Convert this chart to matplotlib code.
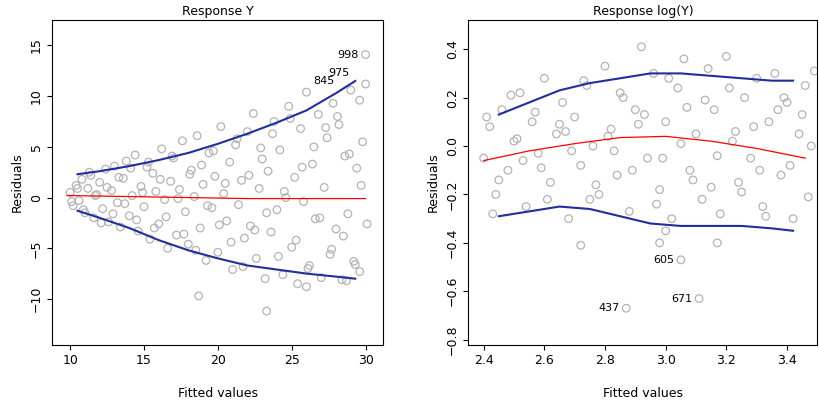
import matplotlib.pyplot as plt

# left panel: residuals vs fitted, response Y
fit_y = [10.0, 10.2, 10.4, 10.6, 10.8, 11.0, 11.2, 11.4, 11.6, 11.8, 12.0, 12.2, 12.4, 12.6, 12.8,
         13.0, 13.2, 13.4, 13.6, 13.8, 14.0, 14.2, 14.4, 14.6, 14.8, 15.0, 15.2, 15.4, 15.6, 15.8,
         16.0, 16.2, 16.4, 16.6, 16.8, 17.0, 17.2, 17.4, 17.6, 17.8, 18.0, 18.2, 18.4, 18.6, 18.8,
         19.0, 19.2, 19.4, 19.6, 19.8, 20.0, 20.2, 20.4, 20.6, 20.8, 21.0, 21.2, 21.4, 21.6, 21.8,
         22.0, 22.2, 22.4, 22.6, 22.8, 23.0, 23.2, 23.4, 23.6, 23.8, 24.0, 24.2, 24.4, 24.6, 24.8,
         25.0, 25.2, 25.4, 25.6, 25.8, 26.0, 26.2, 26.4, 26.6, 26.8, 27.0, 27.2, 27.4, 27.6, 27.8,
         28.0, 28.2, 28.4, 28.6, 28.8, 29.0, 29.2, 29.4, 29.6, 29.8, 30.0,
         10.1, 10.5, 10.9, 11.3, 11.7, 12.1, 12.5, 12.9, 13.3, 13.7, 14.1, 14.5, 14.9, 15.3, 15.7,
         16.1, 16.5, 16.9, 17.3, 17.7, 18.1, 18.5, 18.9, 19.3, 19.7, 20.1, 20.5, 20.9, 21.3, 21.7,
         22.1, 22.5, 22.9, 23.3, 23.7, 24.1, 24.5, 24.9, 25.3, 25.7, 26.1, 26.5, 26.9, 27.3, 27.7,
         28.1, 28.5, 28.9, 29.3, 29.7, 30.1, 18.7, 23.3, 26.0, 28.7, 29.6, 30.0]
res_y = [0.5, -0.8, 1.2, -0.3, 1.8, -1.5, 0.9, 2.2, -2.0, 0.3, 1.5, -1.1, 2.8, -2.4, 0.7,
         3.1, -0.5, -2.9, 1.9, 3.6, -1.8, 0.2, 4.2, -3.3, 1.1, -0.9, 3.0, -4.1, 2.4, 0.6,
         -2.6, 4.8, -0.2, -5.0, 1.6, 3.9, -3.7, 0.8, 5.6, -1.4, -4.6, 2.7, 0.1, 6.1, -3.0,
         1.3, -6.2, 4.4, -1.0, 2.1, -5.4, 7.0, 0.4, -2.3, 3.5, -7.1, 5.2, -0.7, 1.7, -4.0,
         6.5, -2.8, 8.3, -6.0, 0.9, 3.8, -8.0, 2.6, -3.4, 7.5, -1.2, 4.7, -7.6, 0.0, 9.0,
         -4.9, 2.0, -8.5, 6.8, -0.4, 10.4, -6.7, 3.3, -2.1, 8.2, -7.9, 1.0, 5.9, -5.6, 9.3,
         -3.1, 7.2, -8.1, 4.1, -1.6, 10.6, -6.3, 2.9, -7.3, 5.5, 11.2,
         -0.4, 0.9, -1.2, 2.5, 0.2, -2.5, 1.0, -1.6, 2.0, -0.6, 2.9, -2.2, 0.5, 3.5, -3.0,
         1.8, -1.9, 4.1, -0.1, -3.6, 2.3, -5.2, 3.2, -0.8, 4.6, -2.7, 1.4, -4.4, 5.8, -6.8,
         2.2, -3.2, 4.9, -1.5, 6.3, -5.8, 0.6, 7.8, -4.2, 3.0, -7.0, 5.0, -2.0, 6.9, -5.1,
         8.0, -3.8, 4.3, -6.6, 1.2, -2.6, -9.7, -11.2, -8.8, -8.2, 9.6, 14.1]
# labelled points: (x, y, text)
lab_y = [(30.0, 14.1, "998"), (29.4, 12.3, "975"), (28.4, 11.5, "845")]
# smooth fits on left panel
sm_x = [10.5, 12, 14, 16, 18, 20, 22, 24, 26, 28, 29.3]
sm_up = [2.3, 2.6, 3.1, 3.7, 4.4, 5.3, 6.3, 7.4, 8.6, 10.3, 11.5]
sm_lo = [-1.3, -2.0, -3.0, -4.2, -5.2, -6.0, -6.7, -7.1, -7.5, -7.8, -8.0]
sm_x0 = [9.8, 14, 18, 22, 26, 30]
sm_mid = [0.2, 0.1, 0.0, -0.1, -0.1, -0.1]

# right panel: response log(Y)
fit_l = [2.40, 2.42, 2.44, 2.46, 2.48, 2.50, 2.52, 2.54, 2.56, 2.58, 2.60, 2.62, 2.64, 2.66, 2.68,
         2.70, 2.72, 2.74, 2.76, 2.78, 2.80, 2.82, 2.84, 2.86, 2.88, 2.90, 2.92, 2.94, 2.96, 2.98,
         3.00, 3.02, 3.04, 3.06, 3.08, 3.10, 3.12, 3.14, 3.16, 3.18, 3.20, 3.22, 3.24, 3.26, 3.28,
         3.30, 3.32, 3.34, 3.36, 3.38, 3.40, 3.42, 3.44, 3.46, 3.48,
         2.41, 2.45, 2.49, 2.53, 2.57, 2.61, 2.65, 2.69, 2.73, 2.77, 2.81, 2.85, 2.89, 2.93, 2.97,
         3.01, 3.05, 3.09, 3.13, 3.17, 3.21, 3.25, 3.29, 3.33, 3.37, 3.41, 3.45, 3.49,
         2.43, 2.51, 2.59, 2.67, 2.75, 2.83, 2.91, 2.99, 3.07, 3.15, 3.23, 3.31, 3.39, 3.47,
         2.72, 2.98, 3.00, 3.17, 3.05, 3.11, 2.87]
res_l = [-0.05, 0.08, -0.20, 0.15, -0.10, 0.02, 0.22, -0.25, 0.10, -0.03, 0.28, -0.15, 0.05, 0.18, -0.30,
         0.12, -0.08, 0.25, 0.00, -0.20, 0.33, 0.07, -0.12, 0.20, -0.27, 0.15, 0.41, -0.05, 0.30, -0.18,
         0.10, -0.30, 0.24, 0.36, -0.10, 0.05, -0.22, 0.32, 0.15, -0.28, 0.37, 0.02, -0.15, 0.20, -0.05,
         0.28, -0.25, 0.10, 0.30, -0.12, 0.18, -0.30, 0.05, 0.25, 0.00,
         0.12, -0.14, 0.21, -0.06, 0.14, -0.22, 0.09, -0.02, 0.27, -0.16, 0.04, 0.22, -0.10, 0.13, -0.24,
         0.28, 0.01, -0.14, 0.19, -0.04, 0.24, -0.19, 0.08, -0.29, 0.15, -0.08, 0.13, 0.31,
         -0.28, 0.03, -0.09, 0.06, -0.22, -0.02, 0.09, -0.05, 0.16, -0.17, 0.06, -0.10, 0.20, -0.21,
         -0.41, -0.40, -0.35, -0.40, -0.47, -0.63, -0.67]
lab_l = [(3.05, -0.47, "605"), (3.11, -0.63, "671"), (2.87, -0.67, "437")]
lm_x = [2.45, 2.55, 2.65, 2.75, 2.85, 2.95, 3.05, 3.15, 3.25, 3.35, 3.42]
lm_up = [0.13, 0.18, 0.23, 0.26, 0.28, 0.30, 0.30, 0.29, 0.28, 0.27, 0.27]
lm_lo = [-0.29, -0.27, -0.25, -0.26, -0.29, -0.32, -0.33, -0.33, -0.33, -0.34, -0.35]
lm_x0 = [2.40, 2.55, 2.70, 2.85, 3.00, 3.15, 3.30, 3.46]
lm_mid = [-0.06, -0.02, 0.01, 0.035, 0.04, 0.02, -0.01, -0.05]

fig = plt.figure(figsize=(8.19, 4.03), dpi=100)
ax1 = fig.add_axes([0.064, 0.145, 0.404, 0.805])
ax2 = fig.add_axes([0.572, 0.145, 0.426, 0.805])

grey = "#b3b3b3"
blue = "#1f2f9e"

ax1.set_xlim(8.8, 31.2)
ax2.set_xlim(2.35, 3.50)

for ax, x, y, labs, sx, up, lo, sx0, mid in [
        (ax1, fit_y, res_y, lab_y, sm_x, sm_up, sm_lo, sm_x0, sm_mid),
        (ax2, fit_l, res_l, lab_l, lm_x, lm_up, lm_lo, lm_x0, lm_mid)]:
    ax.scatter(x, y, s=30, facecolors="none", edgecolors=grey, linewidths=0.9)
    ax.plot(sx, up, color=blue, lw=1.5)
    ax.plot(sx, lo, color=blue, lw=1.5)
    ax.plot(sx0, mid, color="red", lw=0.9)
    for lx, ly, t in labs:
        ax.annotate(t, (lx, ly), xytext=(-5, 0), textcoords="offset points",
                    ha="right", va="center", fontsize=8)
    ax.set_ylabel("Residuals", fontsize=9)
    ax.set_xlabel("Fitted values", fontsize=9, labelpad=14)
    ax.tick_params(labelsize=9, direction="out")

ax1.set_title("Response Y", fontsize=9, pad=4)
ax1.set_ylim(-14.5, 17.5)
ax1.set_xticks([10, 15, 20, 25, 30])
ax1.set_yticks([-10, -5, 0, 5, 10, 15])
ax1.set_yticklabels(["−10", "−5", "0", "5", "10", "15"], rotation=90, va="center")

ax2.set_title("Response log(Y)", fontsize=9, pad=4)
ax2.set_ylim(-0.82, 0.52)
ax2.set_xticks([2.4, 2.6, 2.8, 3.0, 3.2, 3.4])
ax2.set_yticks([-0.8, -0.6, -0.4, -0.2, 0.0, 0.2, 0.4])
ax2.set_yticklabels(["−0.8", "−0.6", "−0.4", "−0.2", "0.0", "0.2", "0.4"], rotation=90, va="center")

fig.savefig("out.png", dpi=100)
